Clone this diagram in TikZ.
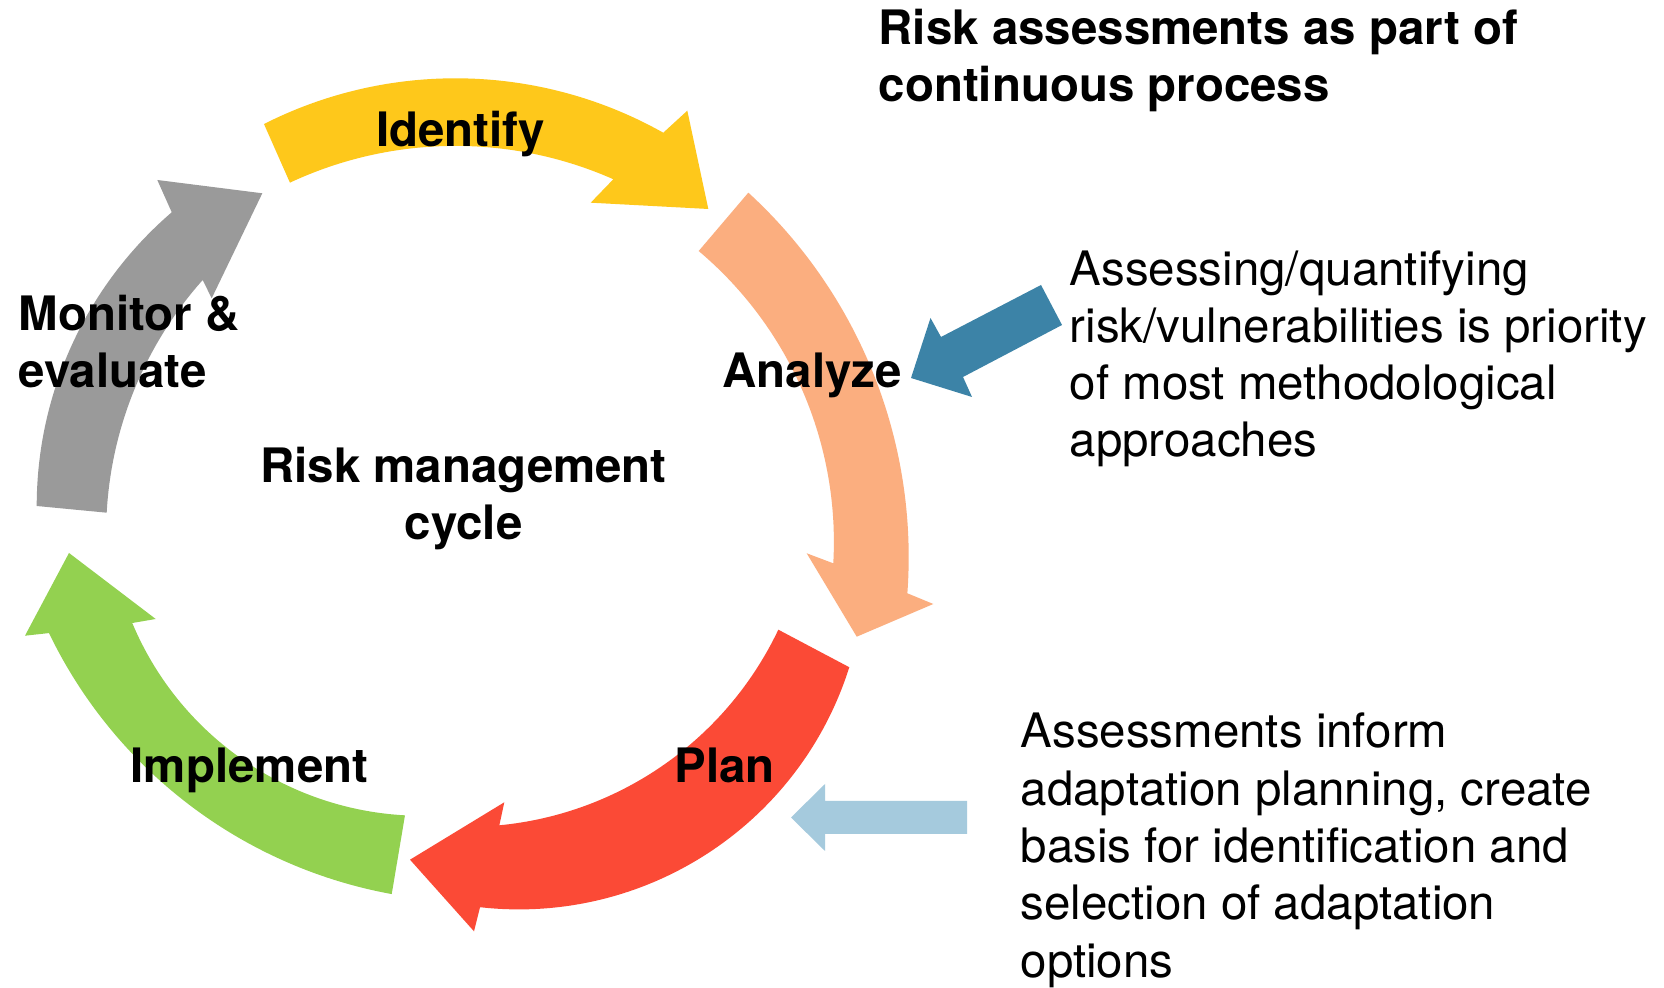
\documentclass[tikz,border=0pt]{standalone}
\usepackage{fontspec}
\setmainfont{TeX Gyre Heros}
\usetikzlibrary{calc}
\definecolor{identifyyellow}{HTML}{FEC81B}
\definecolor{analyzeorange}{HTML}{FBAE7F}
\definecolor{planred}{HTML}{FB4A36}
\definecolor{implementgreen}{HTML}{93D150}
\definecolor{monitorgray}{HTML}{9A9A9A}
\definecolor{noteblue}{HTML}{3C83A7}
\definecolor{notelightblue}{HTML}{A5CADD}
\tikzset{
  steplabel/.style={inner sep=0pt, font=\fontsize{13.5}{16.3}\selectfont\bfseries},
  notetext/.style={inner sep=0pt, align=left, font=\fontsize{13.5}{16.3}\selectfont}
}

\begin{document}
\begin{tikzpicture}
	%%%%% START %%%%%
	\fill[white] (0, 0) rectangle (16.64, 9.88);
	\useasboundingbox (0, 0) rectangle (16.64, 9.88);
	
	% the cycle ring: outer arc, arrow head, inner arc back to the tail
	\fill[identifyyellow] ($(4.555, 4.858)+(116.86:4.239)$) arc (116.86:60.65:4.239)
		-- (6.873, 8.773) -- (7.083, 7.79) -- (5.907, 7.853)
		-- ($(4.554, 4.513)+(66.16:3.908)$) arc (66.16:115.05:3.908) -- cycle;
	\fill[analyzeorange] ($(4.144, 4.309)+(47.5:4.943)$) arc (47.5:-4.2:4.943)
		-- (9.333, 3.84) -- (8.567, 3.513) -- (8.067, 4.347)
		-- ($(4.534, 4.461)+(-3.23:3.805)$) arc (-3.23:49.86:3.805) -- cycle;
	\fill[planred] ($(5.188, 4.252)+(-17.54:3.466)$) arc (-17.54:-96.42:3.466)
		-- (4.74, 0.567) -- (4.10, 1.283) -- (5.043, 1.857)
		-- ($(4.663, 5.066)+(-84.51:3.455)$) arc (-84.51:-25.42:3.455) -- cycle;
	\fill[implementgreen] ($(4.769, 5.613)+(259.67:4.751)$) arc (259.67:205.75:4.751)
		-- (0.25, 3.523) -- (0.69, 4.35) -- (1.557, 3.69)
		-- ($(4.219, 4.862)+(202.71:3.14)$) arc (202.71:266.91:3.14) -- cycle;
	\fill[monitorgray] ($(4.241, 4.818)+(179.97:3.874)$) arc (179.97:130.65:3.874)
		-- (1.573, 8.08) -- (2.623, 7.947) -- (2.117, 6.897)
		-- ($(4.871, 4.545)+(138.29:3.81)$) arc (138.29:176.87:3.81) -- cycle;
	
	% labels sit on the baseline of their last line
	\node[steplabel, anchor=base] (identify) at (4.605, 8.41) {Identify};
	\node[steplabel, anchor=base west, align=left] (monitor) at (0.18, 6.00) {Monitor \&\\evaluate};
	\node[steplabel, anchor=base west] (analyze) at (7.22, 6.00) {Analyze};
	\node[steplabel, anchor=base, align=center] (cycle) at (4.635, 4.48) {Risk management\\cycle};
	\node[steplabel, anchor=base west] (implement) at (1.30, 2.05) {Implement};
	\node[steplabel, anchor=base west] (plan) at (6.74, 2.05) {Plan};
	
	\node[steplabel, anchor=base west, align=left] (title) at (8.78, 8.86) {Risk assessments as part of\\continuous process};
	
	% pointer to Analyze
	\fill[noteblue] (10.41, 7.03) -- (10.62, 6.63) -- (9.63, 6.11) -- (9.72, 5.91) -- (9.11, 6.10) -- (9.305, 6.70) -- (9.41, 6.51) -- cycle;
	\node[notetext, anchor=base west] (analyzenote) at (10.69, 5.31) {Assessing/quantifying\\risk/vulnerabilities is priority\\of most methodological\\approaches};
	
	% pointer to Plan
	\fill[notelightblue] (7.91, 1.705) -- (8.25, 2.04) -- (8.25, 1.87) -- (9.67, 1.87) -- (9.67, 1.54) -- (8.25, 1.54) -- (8.25, 1.37) -- cycle;
	\node[notetext, anchor=base west] (plannote) at (10.20, 0.11) {Assessments inform\\adaptation planning, create\\basis for identification and\\selection of adaptation\\options};
	%%%%% END %%%%%
\end{tikzpicture}
\end{document}
